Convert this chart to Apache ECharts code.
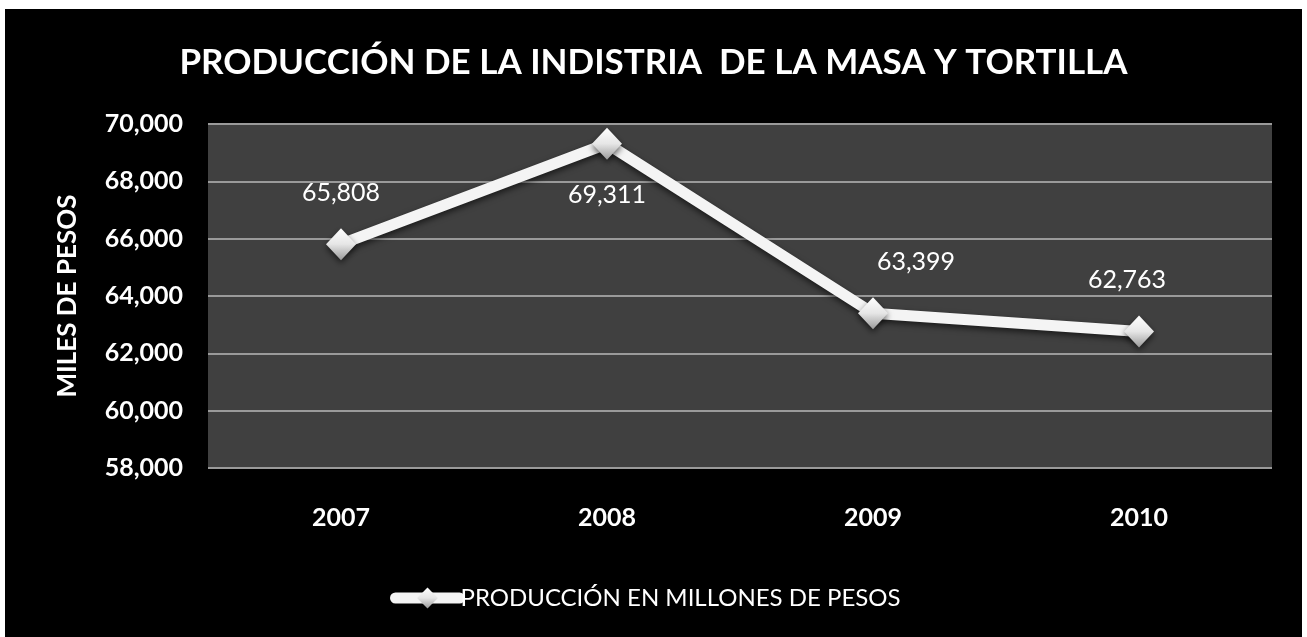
<!DOCTYPE html>
<html>
<head>
<meta charset="utf-8">
<script src="https://cdn.jsdelivr.net/npm/echarts@6/dist/echarts.min.js"></script>
<style>
html,body{margin:0;padding:0;background:#ffffff;width:1307px;height:637px;overflow:hidden;}
#chart{position:absolute;left:5px;top:9px;width:1297px;height:628px;background:#000;}
</style>
</head>
<body>
<div id="chart"></div>
<script>
const titleText = 'PRODUCCIÓN DE LA INDISTRIA  DE LA MASA Y TORTILLA';
const yAxisName = 'MILES DE PESOS';
const seriesName = 'PRODUCCIÓN EN MILLONES DE PESOS';
const categories = ['2007', '2008', '2009', '2010'];
const values = [65808, 69311, 63399, 62763];
const yMin = 58000, yMax = 70000, yStep = 2000;

const FONT = 'Lato, "Open Sans", sans-serif';
const fmt = v => v.toLocaleString('en-US');

// label placement per point (styling, not data)
const labelPlacement = [
  {position: 'top', offset: [0, -18]},
  {position: 'bottom', offset: [0, 18]},
  {position: 'top', offset: [43, -18]},
  {position: 'top', offset: [-12, -18]}
];

const chart = echarts.init(document.getElementById('chart'), null, {renderer: 'canvas'});
const markerColor = new echarts.graphic.LinearGradient(0, 0, 0, 1, [
  {offset: 0, color: '#ffffff'},
  {offset: 0.5, color: '#e6e6e6'},
  {offset: 1, color: '#9a9a9a'}
]);
chart.setOption({
  backgroundColor: '#000000',
  animation: false,
  title: {
    text: titleText,
    left: 'center',
    top: 31,
    textStyle: {color: '#ffffff', fontFamily: FONT, fontWeight: 'bold', fontSize: 35}
  },
  legend: {
    bottom: 22,
    left: 380,
    itemWidth: 64,
    itemHeight: 26,
    itemGap: 4,
    lineStyle: {width: 11, color: '#f4f4f4', cap: 'round'},
    textStyle: {color: '#ffffff', fontFamily: FONT, fontSize: 24, padding: [0, 0, 0, -4]},
    data: [seriesName]
  },
  grid: {left: 203, right: 30, top: 115, bottom: 169, containLabel: false,
    show: true, backgroundColor: '#404040', borderWidth: 0},
  xAxis: {
    type: 'category',
    data: categories,
    boundaryGap: true,
    axisLine: {show: false},
    axisTick: {show: false},
    axisLabel: {color: '#ffffff', fontFamily: FONT, fontWeight: 'bold', fontSize: 25, margin: 37}
  },
  yAxis: {
    type: 'value',
    min: yMin, max: yMax, interval: yStep,
    name: yAxisName,
    nameLocation: 'middle',
    nameGap: 127,
    nameRotate: 90,
    nameTextStyle: {color: '#ffffff', fontFamily: FONT, fontWeight: 'bold', fontSize: 26},
    axisLine: {show: false},
    axisTick: {show: false},
    axisLabel: {color: '#ffffff', fontFamily: FONT, fontWeight: 'bold', fontSize: 25, margin: 25, formatter: fmt},
    splitLine: {show: true, lineStyle: {color: '#9a9a9a', width: 2}}
  },
  series: [{
    name: seriesName,
    type: 'line',
    data: values.map((v, i) => ({
      value: v,
      label: {show: true, position: labelPlacement[i].position, offset: labelPlacement[i].offset}
    })),
    symbol: 'diamond',
    symbolSize: [30, 32],
    lineStyle: {color: '#f4f4f4', width: 11, shadowColor: 'rgba(0,0,0,0.6)', shadowBlur: 6, shadowOffsetY: 3},
    itemStyle: {color: markerColor, borderWidth: 0, shadowColor: 'rgba(0,0,0,0.6)', shadowBlur: 6, shadowOffsetY: 3},
    label: {color: '#ffffff', fontFamily: FONT, fontSize: 25, formatter: p => fmt(p.value)},
    z: 3
  }]
});
</script>
</body>
</html>
